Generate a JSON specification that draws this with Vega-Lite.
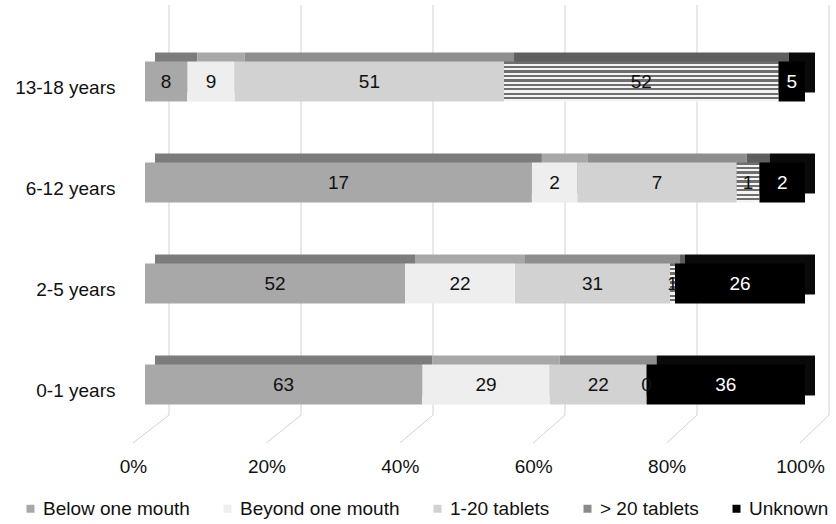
{
  "$schema": "https://vega.github.io/schema/vega-lite/v6.json",
  "autosize": "none",
  "width": 660,
  "height": 438,
  "padding": {"left": 145, "top": 5, "right": 31, "bottom": 81},
  "background": "white",
  "config": {
    "view": {"stroke": null},
    "font": "Liberation Sans",
    "text": {"font": "Liberation Sans"}
  },
  "datasets": {
    "counts": [
      {"age": "13-18 years", "cat": "Below one mouth", "k": 1, "n": 8},
      {"age": "13-18 years", "cat": "Beyond one mouth", "k": 2, "n": 9},
      {"age": "13-18 years", "cat": "1-20 tablets", "k": 3, "n": 51},
      {"age": "13-18 years", "cat": "> 20 tablets", "k": 4, "n": 52},
      {"age": "13-18 years", "cat": "Unknown", "k": 5, "n": 5},
      {"age": "6-12 years", "cat": "Below one mouth", "k": 1, "n": 17},
      {"age": "6-12 years", "cat": "Beyond one mouth", "k": 2, "n": 2},
      {"age": "6-12 years", "cat": "1-20 tablets", "k": 3, "n": 7},
      {"age": "6-12 years", "cat": "> 20 tablets", "k": 4, "n": 1},
      {"age": "6-12 years", "cat": "Unknown", "k": 5, "n": 2},
      {"age": "2-5 years", "cat": "Below one mouth", "k": 1, "n": 52},
      {"age": "2-5 years", "cat": "Beyond one mouth", "k": 2, "n": 22},
      {"age": "2-5 years", "cat": "1-20 tablets", "k": 3, "n": 31},
      {"age": "2-5 years", "cat": "> 20 tablets", "k": 4, "n": 1},
      {"age": "2-5 years", "cat": "Unknown", "k": 5, "n": 26},
      {"age": "0-1 years", "cat": "Below one mouth", "k": 1, "n": 63},
      {"age": "0-1 years", "cat": "Beyond one mouth", "k": 2, "n": 29},
      {"age": "0-1 years", "cat": "1-20 tablets", "k": 3, "n": 22},
      {"age": "0-1 years", "cat": "> 20 tablets", "k": 4, "n": 0},
      {"age": "0-1 years", "cat": "Unknown", "k": 5, "n": 36}
    ],
    "ticks": [{"t": 0}, {"t": 0.2}, {"t": 0.4}, {"t": 0.6}, {"t": 0.8}, {"t": 1}]
  },
  "layer": [
    {
      "description": "back wall gridlines",
      "data": {"name": "ticks"},
      "mark": {"type": "rule", "color": "#d2d2d2", "strokeWidth": 1, "xOffset": 24, "y2Offset": -28},
      "encoding": {
        "x": {"field": "t", "type": "quantitative"},
        "y": {"value": 0},
        "y2": {"value": "height"}
      }
    },
    {
      "description": "floor lines running from the wall to the front edge",
      "data": {"name": "ticks"},
      "mark": {"type": "rule", "color": "#d2d2d2", "strokeWidth": 1, "xOffset": 24, "x2Offset": {"expr": "-12 + 7 * datum.t"}, "yOffset": -28},
      "encoding": {
        "x": {"field": "t", "type": "quantitative"},
        "x2": {"field": "t"},
        "y": {"value": "height"},
        "y2": {"value": "height"}
      }
    },
    {
      "description": "depth faces of the bars",
      "data": {"name": "counts"},
      "mark": {"type": "bar", "xOffset": 10, "x2Offset": 10, "yOffset": -9, "y2Offset": -9},
      "encoding": {
        "y": {"field": "age", "type": "nominal", "sort": ["13-18 years", "6-12 years", "2-5 years", "0-1 years"]},
        "x": {"field": "n", "type": "quantitative", "stack": "normalize"},
        "order": {"field": "k"},
        "fill": {
          "condition": [
            {"test": "datum.cat === 'Below one mouth'", "value": "#7c7c7c"},
            {"test": "datum.cat === 'Beyond one mouth'", "value": "#a8a8a8"},
            {"test": "datum.cat === '1-20 tablets'", "value": "#8e8e8e"},
            {"test": "datum.cat === '> 20 tablets'", "value": "#5e5e5e"}
          ],
          "value": "#0a0a0a"
        }
      }
    },
    {
      "description": "front faces of the bars",
      "data": {"name": "counts"},
      "mark": {"type": "bar"},
      "encoding": {
        "y": {
          "field": "age", "type": "nominal",
          "sort": ["13-18 years", "6-12 years", "2-5 years", "0-1 years"],
          "scale": {"paddingInner": 0.604, "paddingOuter": 0.4705, "align": 0.595},
          "axis": {
            "title": null, "domain": false, "ticks": false, "tickSize": 0, "grid": false,
            "labelFontSize": 19, "labelColor": "#111111", "labelPadding": 30, "labelOffset": 6,
            "labelFont": "Liberation Sans"
          }
        },
        "x": {
          "field": "n", "type": "quantitative", "stack": "normalize",
          "scale": {"domain": [0, 1], "nice": false},
          "axis": {
            "title": null, "domain": false, "ticks": false, "tickSize": 0, "grid": false,
            "values": [0, 0.2, 0.4, 0.6, 0.8, 1], "format": ".0%", "labelFlush": false,
            "labelFontSize": 19, "labelColor": "#111111", "labelPadding": 14,
            "labelOffset": {"expr": "-12 + 7 * datum.value"},
            "labelFont": "Liberation Sans"
          }
        },
        "order": {"field": "k"},
        "color": {
          "field": "cat", "type": "nominal",
          "scale": {
            "domain": ["Below one mouth", "Beyond one mouth", "1-20 tablets", "> 20 tablets", "Unknown"],
            "range": ["#a8a8a8", "#eeeeee", "#d2d2d2", "#8a8a8a", "#000000"]
          },
          "condition": {
            "test": "datum.cat === '> 20 tablets'",
            "value": {
              "gradient": "linear", "x1": 0, "y1": 0, "x2": 0, "y2": 1,
              "stops": [
                {"offset": 0, "color": "#6e6e6e"}, {"offset": 0.0556, "color": "#6e6e6e"},
                {"offset": 0.0556, "color": "#f4f4f4"}, {"offset": 0.1111, "color": "#f4f4f4"},
                {"offset": 0.1111, "color": "#6e6e6e"}, {"offset": 0.1667, "color": "#6e6e6e"},
                {"offset": 0.1667, "color": "#f4f4f4"}, {"offset": 0.2222, "color": "#f4f4f4"},
                {"offset": 0.2222, "color": "#6e6e6e"}, {"offset": 0.2778, "color": "#6e6e6e"},
                {"offset": 0.2778, "color": "#f4f4f4"}, {"offset": 0.3333, "color": "#f4f4f4"},
                {"offset": 0.3333, "color": "#6e6e6e"}, {"offset": 0.3889, "color": "#6e6e6e"},
                {"offset": 0.3889, "color": "#f4f4f4"}, {"offset": 0.4444, "color": "#f4f4f4"},
                {"offset": 0.4444, "color": "#6e6e6e"}, {"offset": 0.5, "color": "#6e6e6e"},
                {"offset": 0.5, "color": "#f4f4f4"}, {"offset": 0.5556, "color": "#f4f4f4"},
                {"offset": 0.5556, "color": "#6e6e6e"}, {"offset": 0.6111, "color": "#6e6e6e"},
                {"offset": 0.6111, "color": "#f4f4f4"}, {"offset": 0.6667, "color": "#f4f4f4"},
                {"offset": 0.6667, "color": "#6e6e6e"}, {"offset": 0.7222, "color": "#6e6e6e"},
                {"offset": 0.7222, "color": "#f4f4f4"}, {"offset": 0.7778, "color": "#f4f4f4"},
                {"offset": 0.7778, "color": "#6e6e6e"}, {"offset": 0.8333, "color": "#6e6e6e"},
                {"offset": 0.8333, "color": "#f4f4f4"}, {"offset": 0.8889, "color": "#f4f4f4"},
                {"offset": 0.8889, "color": "#6e6e6e"}, {"offset": 0.9444, "color": "#6e6e6e"},
                {"offset": 0.9444, "color": "#f4f4f4"}, {"offset": 1, "color": "#f4f4f4"}
              ]
            }
          },
          "legend": {
            "title": null, "orient": "none", "direction": "horizontal",
            "legendX": -124, "legendY": 494,
            "symbolType": "square", "symbolSize": 64, "symbolStrokeWidth": 0,
            "labelFontSize": 19, "labelFont": "Liberation Sans", "labelColor": "#111111",
            "labelLimit": 300, "labelOffset": 3, "columnPadding": 28, "padding": 0
          }
        }
      }
    },
    {
      "description": "count labels centred in each segment",
      "data": {"name": "counts"},
      "mark": {"type": "text", "fontSize": 19, "font": "Liberation Sans", "baseline": "middle", "align": "center"},
      "encoding": {
        "y": {"field": "age", "type": "nominal", "sort": ["13-18 years", "6-12 years", "2-5 years", "0-1 years"]},
        "x": {"field": "n", "type": "quantitative", "stack": "normalize", "bandPosition": 0.5},
        "order": {"field": "k"},
        "text": {"field": "n", "type": "quantitative"},
        "color": {
          "condition": {"test": "datum.cat === 'Unknown'", "value": "#ffffff"},
          "value": "#111111"
        }
      }
    }
  ]
}
